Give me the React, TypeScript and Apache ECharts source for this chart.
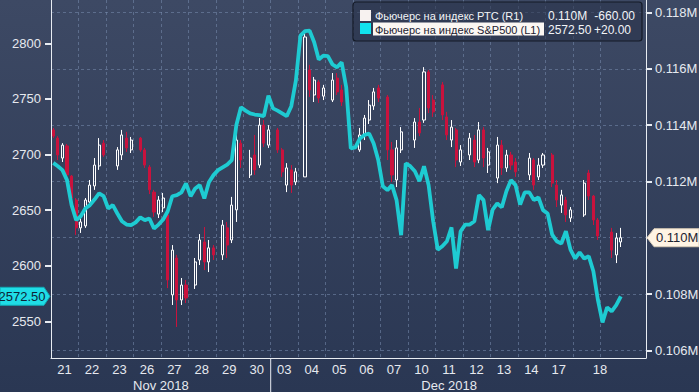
import React, { useEffect, useRef } from 'react';
import * as echarts from 'echarts';

const days = ['21','22','23','26','27','28','29','30','03','04','05','06','07','10','11','12','13','14','17','18'];
const slotsPerDay = 6;
const totalSlots = 130;
const monthLabels = ['Nov 2018', 'Dec 2018'];
const leftTicks = [2550, 2600, 2650, 2700, 2750, 2800];
const rightTicks = [106000, 108000, 110000, 112000, 114000, 116000, 118000];
const legendNames = ['Фьючерс на индекс РТС (R1)', 'Фьючерс на индекс S&P500 (L1)'];
const legendLast = ['0.110M', '2572.50'];
const legendChange = ['-660.00', '+20.00'];

const spx = [
  2692.5, 2689.5, 2686, 2677, 2654.5, 2641, 2644.5, 2651.5, 2654.5, 2659.5,
  2665, 2662.5, 2651.5, 2654.5, 2647, 2640, 2637, 2636.5, 2639, 2643.5,
  2641, 2642.5, 2633.5, 2637, 2641.5, 2649, 2662.5, 2663.5, 2666, 2674,
  2662.5, 2669.5, 2672.5, 2660.5, 2675, 2681.5, 2686, 2688.5, 2691, 2695,
  2726.5, 2742.5, 2739.5, 2737, 2736, 2735.5, 2734.5, 2753, 2741.5, 2739.5,
  2737, 2734.5, 2743.5, 2766.5, 2807, 2811, 2811.5, 2801, 2785.5, 2789,
  2788.5, 2781, 2778.5, 2783, 2760.5, 2705.5, 2706.5, 2714.5, 2717.5, 2719,
  2710, 2695, 2671.5, 2668, 2672.5, 2659, 2627.5, 2692, 2689.5, 2685,
  2676, 2689.5, 2672.5, 2640, 2614.5, 2617.5, 2622, 2634.5, 2597.5, 2631,
  2637, 2637, 2640, 2663.5, 2659, 2632, 2650.5, 2656, 2652.5, 2667,
  2677, 2672.5, 2655, 2666, 2666, 2659, 2661.5, 2650, 2647, 2628,
  2622, 2620, 2631, 2614.5, 2606.5, 2612, 2606.5, 2608.5, 2595, 2569,
  2549, 2562.5, 2559, 2564.5, 2572.5,
];

// [open, close, low, high]
const rts: (number[] | null)[] = [
  [113830,113610,113540,113900],[113540,112940,112760,113610],[112830,113290,112690,113360],[113260,112230,112120,113330],
  [112190,111410,111270,112230],[111340,110350,110100,111410],[110350,110560,110170,110700],[110420,111340,110350,111410],
  [111270,111870,111090,112050],[111840,112580,111700,112830],[112550,113290,112410,113540],[113360,112940,112870,113470],
  null,null,[112550,113120,112410,113220],[112940,113650,112760,113830],
  [113540,113190,113050,113760],[113120,113470,113010,113580],null,[113540,113120,113050,113580],
  [113120,112580,112480,113190],[112510,111700,111550,112580],[111620,110910,110740,111700],[110840,111340,110700,111480],
  [111060,111410,110910,111590],[110810,108500,108210,110880],[107970,109560,107610,109740],[109280,107790,106830,109390],
  [107790,108320,107610,108570],[108320,107860,107680,108500],null,[108320,109140,108180,109280],
  [109210,109920,109030,110130],[109850,109140,108850,110380],[109140,109640,108780,109920],[109640,109390,109210,109740],
  null,[109390,110450,109210,110630],[110350,109740,109280,110560],[109920,111160,109810,111450],
  [110990,113470,110560,113830],[113360,112760,112480,113470],null,[112230,112830,112120,113120],
  [112940,112410,112230,113650],[112580,114000,112480,114250],[114000,113360,113220,114180],[113290,113830,113190,114000],
  null,[113830,113120,113010,113900],[113120,112340,112160,113190],[111870,112480,111620,112650],
  [112410,111870,111590,112580],[111980,112340,111870,112480],null,[112160,117130,112160,117270],
  [115960,115250,115000,116140],[115070,115600,114820,115710],[115530,114960,114790,115600],[115030,115320,114890,115430],
  null,[114890,115600,114820,115850],[115670,115180,115070,115850],[115250,114820,114680,115430],
  null,null,null,[113120,113650,113050,113900],
  [113650,114250,113470,114360],[114180,114710,114040,114890],[114680,115180,114540,115320],[115320,114960,114820,115430],
  null,[115000,113120,112760,115070],[113120,112230,111980,113400],[112050,113190,111800,113470],
  [113120,113760,113010,113930],null,null,[113470,114110,113190,114250],
  [114110,113720,113610,114610],[114180,115890,114080,116060],[115890,114610,114430,115960],[114890,114470,114290,115070],
  null,[115430,114360,114180,115530],[114290,113650,113470,114470],[113470,113930,113220,114180],
  [113830,112760,112510,113900],[112690,113120,112550,113290],null,[112940,113540,112760,113720],
  [113470,112690,112510,113650],[112760,113830,112650,114110],[113830,112830,112510,113930],[112580,113050,112300,113190],
  null,[112120,113290,111940,113580],[113290,112480,112230,113470],[112480,112940,112340,113120],
  [112940,112580,112410,113050],[112690,112340,112160,112830],null,null,
  [112230,112830,112050,113010],[112760,111870,111700,112830],[112160,112580,112050,112830],[112580,112940,112480,113010],
  null,[112940,111940,111800,113010],[111870,111340,111090,112050],[111160,111520,110880,111700],
  [111340,110810,110560,111450],[110700,110990,110560,111090],null,null,
  [110810,111940,110740,112050],[112300,111480,111340,112410],[111480,110630,110450,111520],[110630,110060,109920,110700],
  null,null,[110200,109560,109280,110350],[109390,109990,109100,110170],
  [109850,110000,109670,110350],
];

const FONT = '"Liberation Sans", Arial, sans-serif';
const TXT = '#e6e9ef';
const GRID = 'rgba(120,140,175,0.55)';

export default function App() {
  const ref = useRef<HTMLDivElement>(null);
  useEffect(() => {
    if (!ref.current) return;
    const chart = echarts.init(ref.current, null, { renderer: 'svg' });

    const cats: string[] = [];
    const labelAt: string[] = [];
    for (let i = 0; i < totalSlots; i++) {
      cats.push(String(i));
      const d = Math.floor(i / slotsPerDay);
      let lab = '';
      if (d < days.length - 1 && i % slotsPerDay === slotsPerDay / 2) lab = days[d];
      if (i === (days.length) * slotsPerDay) lab = days[days.length - 1];
      labelAt.push(lab);
    }
    const lastDayStart = (days.length - 1) * slotsPerDay;

    const option: any = {
      animation: false,
      backgroundColor: {
        type: 'linear', x: 0, y: 0, x2: 0, y2: 1,
        colorStops: [
          { offset: 0, color: '#3d4964' },
          { offset: 1, color: '#2a3753' },
        ],
      },
      textStyle: { fontFamily: FONT },
      grid: { left: 51, right: 53, top: 0, bottom: 34, containLabel: false, outerBoundsMode: 'none' },
      xAxis: [{
        type: 'category',
        data: cats,
        boundaryGap: true,
        axisLine: { show: true, lineStyle: { color: '#e8ecf2', width: 1 } },
        axisTick: { show: false },
        axisLabel: {
          interval: (i: number) => labelAt[i] !== '',
          formatter: (v: string) => `{d|${labelAt[+v]}}`,
          margin: 5,
          rich: { d: { color: TXT, fontSize: 13, fontFamily: FONT, padding: [0, 5, 0, 0] } },
        },
        splitLine: {
          show: true,
          interval: (i: number) => i > 0 && i % slotsPerDay === 0 && i <= lastDayStart + slotsPerDay,
          lineStyle: { color: GRID, type: [3, 3], width: 1 },
        },
      }],
      yAxis: [
        {
          type: 'value', position: 'left', min: 2517, max: 2839,
          axisLine: { show: true, lineStyle: { color: '#e8ecf2', width: 1 } },
          axisTick: { show: true, customValues: leftTicks, length: 6, lineStyle: { color: '#e8ecf2', width: 2 } },
          axisLabel: {
            customValues: leftTicks, color: TXT, fontSize: 13, fontFamily: FONT, margin: 10,
            formatter: (v: number) => String(v),
          },
          splitLine: { show: false },
        },
        {
          type: 'value', position: 'right', min: 105728, max: 118444,
          axisLine: { show: true, lineStyle: { color: '#e8ecf2', width: 1 } },
          axisTick: { show: true, customValues: rightTicks, length: 6, lineStyle: { color: '#e8ecf2', width: 2 } },
          axisLabel: {
            customValues: rightTicks, color: TXT, fontSize: 13, fontFamily: FONT, margin: 9,
            formatter: (v: number) => (v / 1e6).toFixed(3) + 'M',
          },
          splitLine: { show: true, lineStyle: { color: GRID, type: [3, 3], width: 1 } },
        },
      ],
      series: [
        {
          type: 'candlestick',
          name: legendNames[0],
          xAxisIndex: 0, yAxisIndex: 1,
          barWidth: 2.6,
          data: rts.map((r) => (r ? r : ['-', '-', '-', '-'])),
          itemStyle: {
            color: 'rgba(0,0,0,0)', borderColor: '#ffffff',
            color0: '#c9123d', borderColor0: '#c9123d', borderWidth: 1,
          },
        },
        {
          type: 'line',
          name: legendNames[1],
          xAxisIndex: 0, yAxisIndex: 0,
          data: spx,
          showSymbol: false,
          symbol: 'none',
          lineStyle: { color: '#1ecbd2', width: 3.8 },
          z: 3,
        },
      ],
    };
    chart.setOption(option);

    const px = (i: number) => chart.convertToPixel({ xAxisIndex: 0 }, i) as number;
    const band = px(1) - px(0);
    const edge = (i: number) => px(i) - band / 2;
    const sepX = edge(8 * slotsPerDay);
    const novX = (edge(0) + sepX) / 2;
    const decX = (sepX + edge(lastDayStart + 2 * slotsPerDay)) / 2;
    const gridBottom = 392 - 34;
    const ly = chart.convertToPixel({ yAxisIndex: 0 }, spx[spx.length - 1]) as number;
    const lastR = rts[rts.length - 1] as number[];
    const ry = chart.convertToPixel({ yAxisIndex: 1 }, lastR[1]) as number;
    const LF = `11px ${FONT}`;

    const graphic: any[] = [
      { type: 'line', shape: { x1: sepX, y1: gridBottom, x2: sepX, y2: 392 }, style: { stroke: '#e8ecf2', lineWidth: 1 } },
      { type: 'text', x: novX, y: 385, style: { text: monthLabels[0], fill: TXT, font: `13px ${FONT}`, align: 'center', verticalAlign: 'middle' } },
      { type: 'text', x: decX, y: 385, style: { text: monthLabels[1], fill: TXT, font: `13px ${FONT}`, align: 'center', verticalAlign: 'middle' } },
      // left last-value tag
      { type: 'polygon', shape: { points: [[0, ly - 9], [44, ly - 9], [50, ly], [44, ly + 9], [0, ly + 9]] }, style: { fill: '#1fdde6', stroke: '#12a9b3', lineWidth: 1 }, z: 10 },
      { type: 'text', x: 22, y: ly, style: { text: legendLast[1], fill: '#0d2436', font: `13px ${FONT}`, align: 'center', verticalAlign: 'middle' }, z: 11 },
      // right last-value tag
      { type: 'polygon', shape: { points: [[647, ry], [654, ry - 9], [699, ry - 9], [699, ry + 9], [654, ry + 9]] }, style: { fill: '#fff4e4', stroke: '#d8cbb8', lineWidth: 1 }, z: 10 },
      { type: 'text', x: 656, y: ry, style: { text: legendLast[0], fill: '#1d2230', font: `13px ${FONT}`, align: 'left', verticalAlign: 'middle' }, z: 11 },
      // legend box
      { type: 'rect', shape: { x: 353, y: 2, width: 289, height: 39, r: 3 }, style: { fill: 'rgba(40,50,72,0.55)', stroke: '#141a27', lineWidth: 1.2 }, z: 20 },
      { type: 'rect', shape: { x: 360, y: 10, width: 11, height: 11 }, style: { fill: '#f7f2f0' }, z: 21 },
      { type: 'rect', shape: { x: 360, y: 23, width: 11, height: 11 }, style: { fill: '#11e3ee' }, z: 21 },
      { type: 'rect', shape: { x: 373, y: 22.5, width: 171, height: 13 }, style: { fill: '#fbf7f3' }, z: 21 },
      { type: 'text', x: 375, y: 16, style: { text: legendNames[0], fill: '#f2f4f7', font: LF, verticalAlign: 'middle' }, z: 22 },
      { type: 'text', x: 375, y: 29.5, style: { text: legendNames[1], fill: '#1b2130', font: LF, verticalAlign: 'middle' }, z: 22 },
      { type: 'text', x: 548, y: 16, style: { text: legendLast[0], fill: '#f2f4f7', font: `12px ${FONT}`, verticalAlign: 'middle' }, z: 22 },
      { type: 'text', x: 548, y: 29.5, style: { text: legendLast[1], fill: '#f2f4f7', font: `12px ${FONT}`, verticalAlign: 'middle' }, z: 22 },
      { type: 'text', x: 635, y: 16, style: { text: legendChange[0], fill: '#f2f4f7', font: `12px ${FONT}`, align: 'right', verticalAlign: 'middle' }, z: 22 },
      { type: 'text', x: 631, y: 29.5, style: { text: legendChange[1], fill: '#f2f4f7', font: `12px ${FONT}`, align: 'right', verticalAlign: 'middle' }, z: 22 },
    ];
    chart.setOption({ graphic });

    return () => chart.dispose();
  }, []);

  return <div ref={ref} style={{ width: 699, height: 392, position: 'absolute', left: 0, top: 0 }} />;
}
